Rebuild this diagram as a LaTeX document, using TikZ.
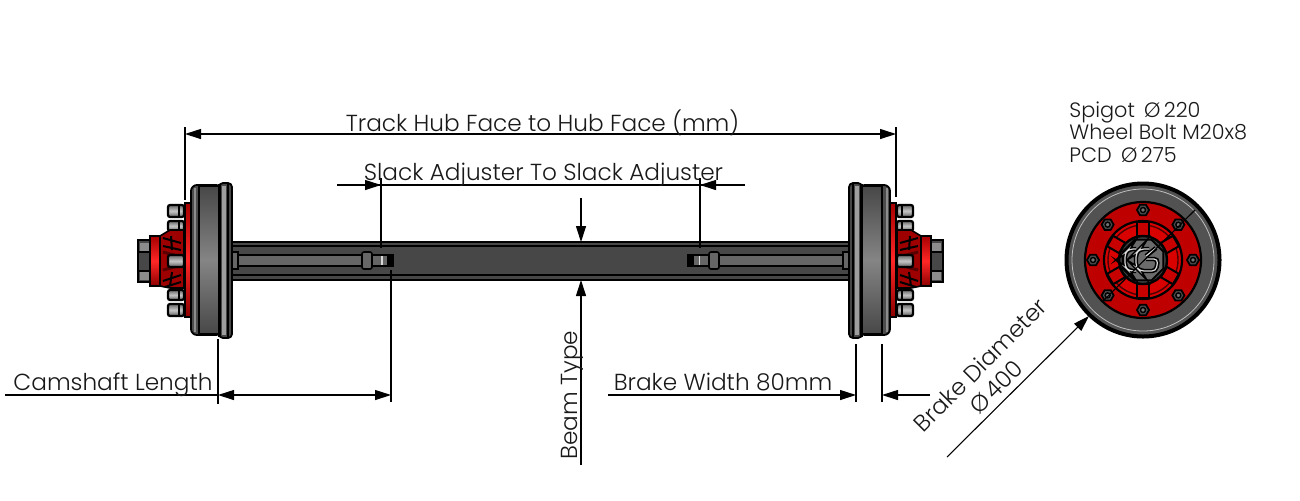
\documentclass[tikz,border=0pt]{standalone}
\usepackage{fontspec}
\setmainfont{Poppins}[UprightFont=* Light]
\usetikzlibrary{arrows.meta}
\tikzset{
  dimline/.style={line width=0.55pt,black},
  dimarrow/.style={dimline,-{Triangle[length=8pt,width=5pt]}},
  twoarrow/.style={dimline,{Triangle[length=8pt,width=5pt]}-{Triangle[length=8pt,width=5pt]}},
  dimtext/.style={inner sep=0pt,font=\fontsize{11.6}{12}\selectfont,text=black!90},
  sidetext/.style={dimtext,anchor=base west,font=\fontsize{10.4}{12}\selectfont},
  part/.style={draw=black,line width=0.9pt,line join=round},
  band/.style={part,top color=black!72,bottom color=black!72,middle color=black!48},
  boltpart/.style={draw=black,line width=1.1pt,rounded corners=1pt,top color=black!60,bottom color=black!65,middle color=black!22},
  redpart/.style={draw=black,line width=0.8pt,line join=round,fill=red!62!black},
  brightred/.style={draw=black,line width=0.7pt,top color=red!65!black,bottom color=red!55!black,middle color=red!85!white},
  beampart/.style={draw=black,line width=0.9pt,fill=black!72},
  barpart/.style={draw=black,line width=0.8pt,fill=black!60},
  nutlook/.style={draw=black,line width=0.9pt,fill=black!72},
}
\newcommand{\wheelunit}{%
  % bolts
  \foreach \yy/\hh in {211/6,226/5,261/6,295/5,310/6}{
    \draw[boltpart] (168,\yy-\hh) rectangle (184,\yy+\hh);
    \draw[black,line width=0.6pt] (179,\yy-\hh) -- (179,\yy+\hh);
  }
  % big hub nut
  \draw[nutlook] (138,240) -- (150,240) -- (150,282) -- (138,282) -- cycle;
  \fill[black!45] (140,243) rectangle (149,251);
  \fill[black!45] (140,272) rectangle (149,280);
  \draw[black,line width=0.7pt] (138,252) -- (150,252) (138,271) -- (150,271);
  % red hub
  \draw[redpart] (184,230) -- (170,230) -- (160,236) -- (160,286) -- (170,288) -- (184,288) -- cycle;
  \draw[brightred] (150,236) rectangle (160,286);
  \draw[black,line width=1pt] (163,238) -- (181,243) (163,246) -- (181,250) (171,236) -- (172,250)
     (163,281) -- (181,275) (165,287) -- (181,282) (172,272) -- (170,286);
  \draw[red!35!black,line width=1.5pt] (163,252) -- (178,256) (163,270) -- (178,266);
  \draw[boltpart] (168,255) rectangle (184,267);
  % flange plate
  \draw[brightred] (185,203) rectangle (191,317);
  % drum
  \draw[part,fill=black!70,rounded corners=3pt] (191,185) rectangle (222,335);
  \draw[band] (199,186) rectangle (219,334);
  \fill[black!45] (193.5,188) rectangle (195.5,332);
  \draw[part,fill=black!72,rounded corners=2pt] (219,183) rectangle (232,338);
  \fill[black!38] (222,186) rectangle (226,335);
  \draw[black,line width=1.4pt] (219.5,184) -- (219.5,337);
  \draw[black,line width=1pt] (228,184) -- (228,337);
}
\newcommand{\shaftunit}{%
  \draw[barpart] (238,255) rectangle (362,266);
  \draw[barpart] (232,252) rectangle (238,269);
  \draw[barpart,line width=1pt] (372,255) rectangle (393,266);
  \fill[black] (387,255) rectangle (393,266);
  \fill[white!85!black] (381,256) rectangle (382.5,265);
  \draw[barpart,rounded corners=1pt] (362,252) rectangle (372,269);
}
\begin{document}
\begin{tikzpicture}[x=0.5pt,y=-0.5pt]
\useasboundingbox (0,0) rectangle (1300,500);

% beam
\draw[beampart] (232,242) rectangle (849,280);
\draw[black,line width=0.7pt] (232,246) -- (849,246) (232,275) -- (849,275);

% axle parts
\shaftunit
\begin{scope}[shift={(1081,0)},xscale=-1]
  \shaftunit
\end{scope}
\wheelunit
\begin{scope}[shift={(1081,0)},xscale=-1]
  \wheelunit
\end{scope}

% end view
\begin{scope}[shift={(1143,260)}]
  \draw[draw=black,line width=2pt,fill=black!68] (0,0) circle (76.5);
  \draw[black!25,line width=0.4pt] (0,0) circle (71);
  \draw[draw=black,line width=1.1pt,fill=red!75!black] (0,0) circle (58);
  \draw[draw=black,line width=1.1pt,fill=red!85!black] (0,0) circle (39);
  \draw[draw=black!70!red,line width=0.7pt] (0,0) circle (35);
  \foreach \a in {30,90,150,210,270,330}{
    \draw[draw=black,line width=1pt,fill=red!78!black,rotate=\a] (24,-6) rectangle (38,6);
  }
  \draw[draw=black,line width=1.2pt,fill=black!75] (0,0) circle (24);
  \draw[draw=black,line width=0.9pt,fill=black!58] (22.5:22) -- (67.5:22) -- (112.5:22) -- (157.5:22) -- (202.5:22) -- (247.5:22) -- (292.5:22) -- (337.5:22) -- cycle;
  % logo
  \foreach \cc/\ww in {black/2.2pt,black!15/0.6pt}{
    \draw[\cc,line width=\ww,rounded corners=2pt] (-7,-11) -- (-14,-11) -- (-18,-7) -- (-18,7) -- (-14,11) -- (-7,11);
    \draw[\cc,line width=\ww,rounded corners=2pt] (6,-11) -- (-3,-11) -- (-7,-7) -- (-7,7) -- (-3,11) -- (13,11) -- (15,-1) -- (3,-1);
    \draw[\cc,line width=\ww] (3,-4) -- (13,-12);
  }
  \foreach \a in {0,45,...,315}{
    \begin{scope}[shift={(\a:50)}]
      \draw[draw=black,line width=0.9pt,fill=black!70] (0:6) -- (60:6) -- (120:6) -- (180:6) -- (240:6) -- (300:6) -- cycle;
      \draw[draw=black,line width=0.7pt,fill=black!55] (0,0) circle (2.5);
    \end{scope}
  }
\end{scope}

% coordinates for dimensions
\coordinate (trackL) at (185,134);
\coordinate (trackR) at (896,134);
\coordinate (trackLtop) at (185,127);
\coordinate (trackLbot) at (185,200);
\coordinate (trackRtop) at (896,127);
\coordinate (trackRbot) at (896,197);
\coordinate (slackFreeL) at (337,185);
\coordinate (slackFreeR) at (745,185);
\coordinate (slackTipL) at (381,185);
\coordinate (slackTipR) at (700,185);
\coordinate (slackLtop) at (381,178);
\coordinate (slackLbot) at (381,248);
\coordinate (slackRtop) at (700,178);
\coordinate (slackRbot) at (700,248);
\coordinate (beamTop) at (581,198);
\coordinate (beamTopTip) at (581,242);
\coordinate (beamBot) at (581,465);
\coordinate (beamBotTip) at (581,280);
\coordinate (camFree) at (5,395);
\coordinate (camL) at (218,395);
\coordinate (camR) at (391,395);
\coordinate (camLtop) at (218,339);
\coordinate (camLbot) at (218,404);
\coordinate (camRtop) at (391,270);
\coordinate (camRbot) at (391,402);
\coordinate (bwFreeL) at (608,395);
\coordinate (bwTipL) at (856,395);
\coordinate (bwFreeR) at (930,395);
\coordinate (bwTipR) at (882,395);
\coordinate (bwLtop) at (856,344);
\coordinate (bwLbot) at (856,402);
\coordinate (bwRtop) at (882,344);
\coordinate (bwRbot) at (882,402);
\coordinate (bdFree) at (947,457);
\coordinate (bdTip) at (1089,316);
\coordinate (bdInA) at (1102,302);
\coordinate (bdInB) at (1195,210);

% dimension lines
\draw[twoarrow] (trackL) -- (trackR);
\draw[dimline] (trackLtop) -- (trackLbot);
\draw[dimline] (trackRtop) -- (trackRbot);

\draw[dimline] (slackFreeL) -- (slackFreeR);
\draw[dimarrow] (slackFreeL) -- (slackTipL);
\draw[dimarrow] (slackFreeR) -- (slackTipR);
\draw[dimline] (slackLtop) -- (slackLbot);
\draw[dimline] (slackRtop) -- (slackRbot);

\draw[dimarrow] (beamTop) -- (beamTopTip);
\draw[dimarrow] (beamBot) -- (beamBotTip);

\draw[dimline] (camFree) -- (camL);
\draw[twoarrow] (camL) -- (camR);
\draw[dimline] (camLtop) -- (camLbot);
\draw[dimline] (camRtop) -- (camRbot);

\draw[dimarrow] (bwFreeL) -- (bwTipL);
\draw[dimarrow] (bwFreeR) -- (bwTipR);
\draw[dimline] (bwLtop) -- (bwLbot);
\draw[dimline] (bwRtop) -- (bwRbot);

\draw[dimarrow] (bdFree) -- (bdTip);
\draw[dimline] (bdInA) -- (bdInB);

% labels
\node[dimtext,anchor=base] (track) at (542.5,131) {Track Hub Face to Hub Face (mm)};
\node[dimtext,anchor=base] (slack) at (543.5,180) {Slack Adjuster To Slack Adjuster};
\node[dimtext,anchor=base] (cam) at (113,390) {Camshaft Length};
\node[dimtext,anchor=base] (bw) at (723,390) {Brake Width 80mm};
\node[dimtext,anchor=base,rotate=90] (beam) at (577,395) {Beam Type};
\node[dimtext,anchor=base,rotate=45] (bd) at (986,371) {Brake Diameter};
\node[dimtext,anchor=base,rotate=45] (bdv) at (1002,393) {Ø\,400};
\node[sidetext] (sp) at (1069,117) {Spigot \,Ø\,220};
\node[sidetext] (wb) at (1069,139) {Wheel Bolt M20x8};
\node[sidetext] (pcd) at (1069,162) {PCD \,Ø\,275};
\end{tikzpicture}
\end{document}
